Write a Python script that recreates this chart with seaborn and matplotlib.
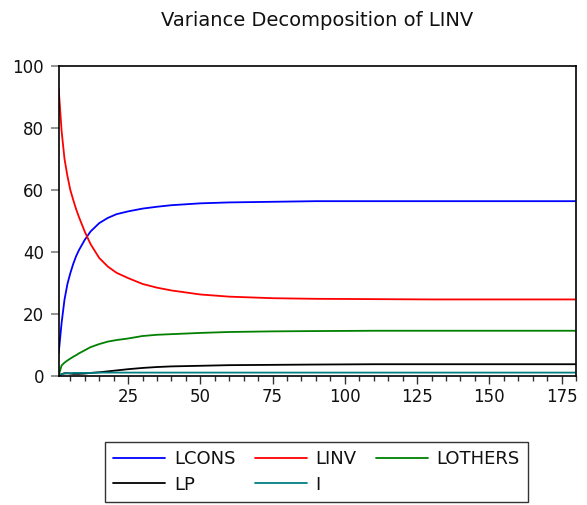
import numpy as np
import pandas as pd
import seaborn as sns
import matplotlib
matplotlib.use("Agg")
import matplotlib.pyplot as plt
from matplotlib.lines import Line2D

# Forecast horizons (periods) at which each share is recorded
periods = [1, 2, 3, 4, 5, 6, 7, 8, 10, 12, 15, 18, 21, 25, 30, 35, 40,
           50, 60, 75, 90, 110, 130, 150, 180]

# Percentage of forecast-error variance of LINV explained by each shock
lcons = [7.3, 17.0, 24.5, 29.5, 33.0, 36.0, 38.5, 40.5, 43.8, 46.5, 49.2,
         50.9, 52.1, 53.0, 53.9, 54.5, 55.0, 55.6, 55.9, 56.1, 56.3, 56.3,
         56.3, 56.3, 56.3]
linv = [92.5, 79.0, 70.0, 64.5, 60.0, 56.8, 53.8, 51.2, 46.5, 42.5, 38.0,
        35.2, 33.2, 31.5, 29.6, 28.4, 27.5, 26.2, 25.5, 25.0, 24.8, 24.7,
        24.6, 24.6, 24.6]
lothers = [0.1, 3.3, 4.2, 4.9, 5.5, 6.1, 6.6, 7.2, 8.2, 9.2, 10.2, 11.0,
           11.5, 12.0, 12.8, 13.2, 13.4, 13.8, 14.1, 14.3, 14.4, 14.5, 14.5,
           14.5, 14.5]
lp = [0.0, 0.5, 0.8, 0.8, 0.7, 0.6, 0.6, 0.6, 0.7, 0.9, 1.1, 1.4, 1.7, 2.1,
      2.5, 2.8, 3.0, 3.2, 3.4, 3.5, 3.6, 3.7, 3.7, 3.7, 3.7]
i_rate = [0.0, 0.5, 0.7, 0.8, 0.8, 0.9, 0.9, 0.9, 0.9, 0.9, 1.0, 1.0, 1.0,
          1.0, 1.0, 1.0, 1.0, 1.0, 1.0, 1.0, 1.0, 1.0, 1.0, 1.0, 1.0]

series_names = ["LCONS", "LINV", "LOTHERS", "LP", "I"]
series_colors = ["#0000ff", "#ff0000", "#008000", "#000000", "#008080"]
x_ticks = [25, 50, 75, 100, 125, 150, 175]
y_ticks = [0, 20, 40, 60, 80, 100]

frames = []
for name, vals in zip(series_names, [lcons, linv, lothers, lp, i_rate]):
    frames.append(pd.DataFrame({"period": periods, "share": vals, "shock": name}))
df = pd.concat(frames, ignore_index=True)

sns.set_theme(style="white")
plt.rcParams["font.family"] = ["DejaVu Sans"]

fig = plt.figure(figsize=(5.87, 5.05), dpi=100)
ax = fig.add_axes([58.7 / 587, 1 - 375.7 / 505, (576 - 58.7) / 587, (375.7 - 65.7) / 505])

palette = dict(zip(series_names, series_colors))
sns.lineplot(data=df, x="period", y="share", hue="shock", palette=palette,
             linewidth=1.3, ax=ax, legend=False, sort=False)

ax.set_xlim(1, 180)
ax.set_ylim(0, 100)
ax.set_xticks(x_ticks)
ax.set_xticks(np.arange(5, 181, 5), minor=True)
ax.set_yticks(y_ticks)
ax.set_xlabel("")
ax.set_ylabel("")

for sp in ax.spines.values():
    sp.set_visible(True)
    sp.set_color("black")
    sp.set_linewidth(1.2)

ax.tick_params(axis="x", which="major", direction="out", length=6, width=1,
               color="#333333", labelsize=12, pad=3, bottom=True)
ax.tick_params(axis="x", which="minor", direction="out", length=3.5, width=1,
               color="#333333", bottom=True)
ax.tick_params(axis="y", which="major", direction="out", length=6, width=1.2,
               color="#808080", labelsize=12, pad=4.5, left=True)
for lbl in ax.get_xticklabels() + ax.get_yticklabels():
    lbl.set_color("#111111")

fig.text(317.4 / 587, 1 - 20 / 505, "Variance Decomposition of LINV",
         ha="center", va="center", fontsize=14, color="#111111")

# Legend laid out row-wise: LCONS LINV LOTHERS / LP I
order = [0, 3, 1, 4, 2]
handles = [Line2D([], [], color=series_colors[k], linewidth=1.3) for k in order]
labels = [series_names[k] for k in order]
leg = fig.legend(handles, labels, ncol=3, loc="upper left",
                 bbox_to_anchor=(105 / 587, 1 - 442.3 / 505),
                 fontsize=13, frameon=True, fancybox=False,
                 handlelength=2.9, handletextpad=0.46, columnspacing=1.08,
                 labelspacing=0.4, borderpad=0.45, borderaxespad=0)
leg.get_frame().set_edgecolor("black")
leg.get_frame().set_linewidth(1.0)
for t in leg.get_texts():
    t.set_color("#111111")

fig.savefig("out.png", dpi=100)
